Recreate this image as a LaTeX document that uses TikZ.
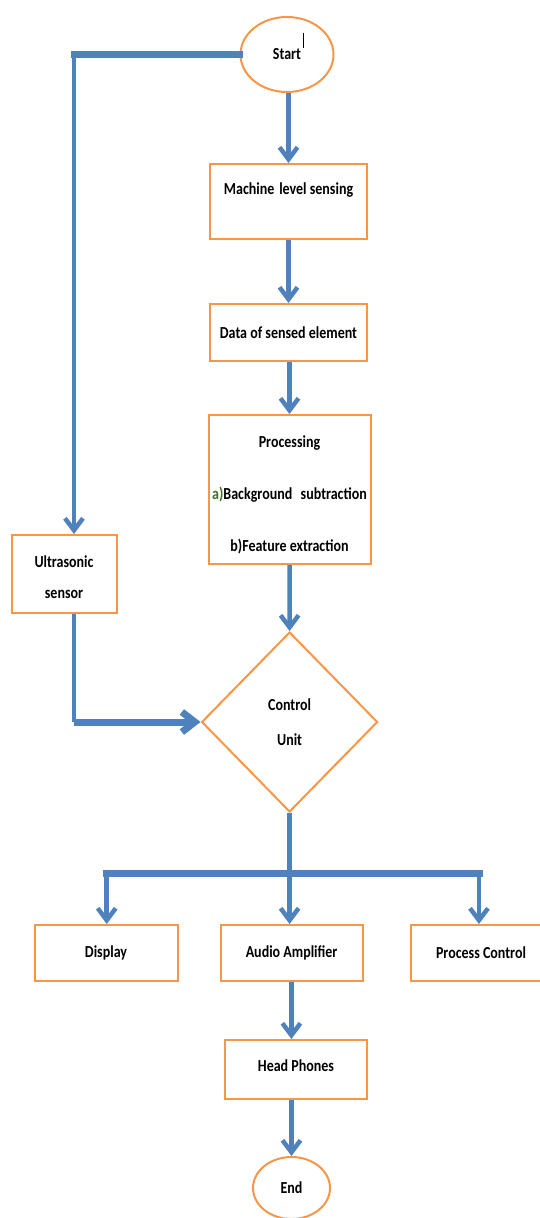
\documentclass[tikz,border=0pt]{standalone}
\usepackage{fontspec}
\setmainfont{Carlito}
\usepackage{graphicx}
\usetikzlibrary{arrows.meta,shapes.geometric}
\definecolor{flowblue}{RGB}{79,129,189}
\definecolor{floworange}{RGB}{247,150,70}
\definecolor{labelgreen}{RGB}{70,110,40}
\newcommand{\vs}[1]{\scalebox{1}[1.2]{#1}}
\tikzset{
  box/.style={draw=floworange, line width=2pt, fill=white, inner sep=0pt, align=center,
    font=\bfseries\fontsize{14}{20}\selectfont},
  term/.style={box, ellipse},
  decision/.style={box, diamond},
  plaintext/.style={inner sep=0pt, align=center, font=\bfseries\fontsize{14}{20}\selectfont},
  conn/.style={draw=flowblue, line width=4.5pt},
  arr/.style={conn, -{Straight Barb[length=12pt,width=18pt]}},
  busline/.style={draw=flowblue, line width=7pt, line cap=rect},
  busarr/.style={busline, line cap=butt, -{Straight Barb[length=13pt,width=20pt]}},
}
\begin{document}
\begin{tikzpicture}[x=1pt,y=-1pt]
\useasboundingbox (0,0) rectangle (540,1218);

% nodes
\node[term, minimum width=93, minimum height=75] (start) at (287,54.5)
  {\vs{Start}\rlap{\hspace{2pt}\raisebox{12pt}[0pt][0pt]{\rule{1.3pt}{15pt}}}};
\node[box, minimum width=157, minimum height=75] (mls) at (288.5,201.5) {};
\node[plaintext] (mlst) at (288.5,190) {\vs{Machine\hspace{0.35em}level sensing}};
\node[box, minimum width=157, minimum height=57] (data) at (288.5,332.5) {\vs{Data of sensed element}};
\node[box, minimum width=162, minimum height=149] (proc) at (289.5,489.5) {};
\node[plaintext] (proct) at (289.5,495)
  {\vs{Processing}\\[32pt]\vs{\textcolor{labelgreen}{a)}Background\hspace{0.6em}subtraction}\\[32pt]\vs{b)Feature extraction}};
\node[box, minimum width=105, minimum height=78] (us) at (64.5,574) {};
\node[plaintext] (ust) at (64,577.5) {\vs{Ultrasonic}\\[11pt]\vs{sensor}};
\node[decision, minimum width=176, minimum height=180] (cu) at (289.6,722) {\vs{Control}\\[15pt]\vs{Unit}};
\node[box, minimum width=143, minimum height=56] (disp) at (106,953) {\vs{Display}};
\node[box, minimum width=142, minimum height=56] (aa) at (291.6,953) {\vs{Audio Amplifier}};
\node[box, minimum width=140, minimum height=56] (pc) at (481,953) {\vs{Process Control}};
\node[box, minimum width=142, minimum height=59] (hp) at (296,1069.5) {};
\node[plaintext] (hpt) at (296,1066) {\vs{Head Phones}};
\node[term, minimum width=77, minimum height=62] (end) at (291.5,1188) {\vs{End}};

% coordinates
\coordinate (c1) at (74,54.5);
\coordinate (c2) at (c1 |- cu.west);
\coordinate (bl) at (106.7,873);
\coordinate (br) at (479,873);
\coordinate (bm) at (cu.south |- bl);

% connectors
\draw[busline] (start.west) -- (c1);
\draw[arr] (c1) -- (c1 |- us.north);
\draw[conn] (c1 |- us.south) -- (c2);
\draw[busarr] (c2) -- (cu.west);
\draw[arr] (start.south -| mls.north) -- (mls.north);
\draw[arr] (mls.south) -- (data.north);
\draw[arr] (data.south -| proc.north) -- (proc.north);
\draw[arr] (proc.south) -- (cu.north);
\draw[conn] (cu.south) -- (bm);
\draw[busline] (bl) -- (br);
\draw[arr] (bl) -- (bl |- disp.north);
\draw[arr] (bm) -- (bm |- aa.north);
\draw[arr] (br) -- (br |- pc.north);
\draw[arr] (aa.south -| hp.north) ++(-4.6,0) coordinate (hps) -- (hps |- hp.north);
\draw[arr] (hp.south -| end.north) -- (end.north);
\end{tikzpicture}
\end{document}
